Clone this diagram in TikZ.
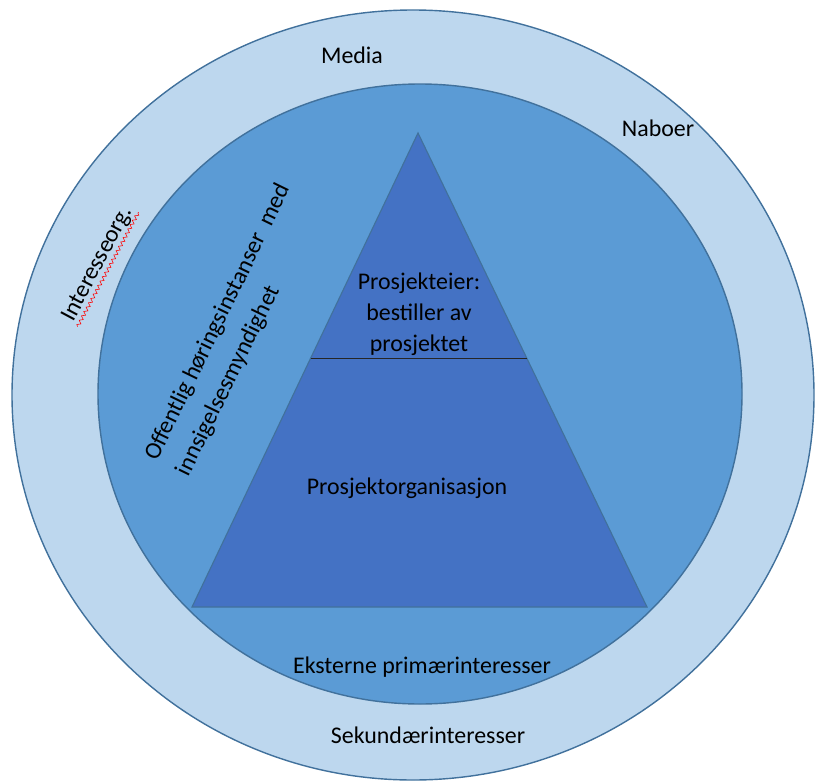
\documentclass[tikz,border=0pt]{standalone}
\usepackage{fontspec}
\setmainfont{Carlito}
\usetikzlibrary{calc,decorations.pathmorphing}
\definecolor{ringlight}{HTML}{BDD7EE}
\definecolor{ringmid}{HTML}{5B9BD5}
\definecolor{pyrfill}{HTML}{4472C4}
\definecolor{edgeblue}{HTML}{41719C}
\begin{document}
\begin{tikzpicture}[x=0.025cm,y=-0.025cm, every node/.style={font=\fontsize{17}{22}\selectfont}]
\useasboundingbox (0,0) rectangle (820,781);
%rings
\draw[edgeblue, fill=ringlight, line width=1pt] (413,395) ellipse [x radius=401, y radius=385];
\draw[edgeblue, fill=ringmid, line width=1pt] (420,394) ellipse [x radius=322, y radius=310];
%pyramid
\coordinate (apex) at (418,133);
\coordinate (bl) at (192,607);
\coordinate (br) at (647,607);
\draw[edgeblue, fill=pyrfill, line width=0.8pt] (apex) -- (bl) -- (br) -- cycle;
\draw[black!85, line width=0.8pt] ($(apex)!0.475!(bl)$) -- ($(apex)!0.475!(br)$);
%labels
\node (media) at (352,55) {Media};
\node (naboer) at (658,128) {Naboer};
\node[rotate=62, inner sep=1pt] (interesse) at (98,264) {Interesseorg.};
\draw[red, decorate, decoration={snake, amplitude=1.2pt, segment length=3.5pt}] (interesse.south west) -- (interesse.south east);
\node[rotate=64, align=left, font=\fontsize{17}{25}\selectfont] (offentlig) at (234,330) {Offentlig høringsinstanser\ \ med\\innsigelsesmyndighet};
\node[align=center] (eier) at (419,314) {Prosjekteier:\\bestiller av\\prosjektet};
\node (org) at (407,488) {Prosjektorganisasjon};
\node (ekstern) at (422,667) {Eksterne primærinteresser};
\node (sekund) at (428,735) {Sekundærinteresser};
\end{tikzpicture}
\end{document}
